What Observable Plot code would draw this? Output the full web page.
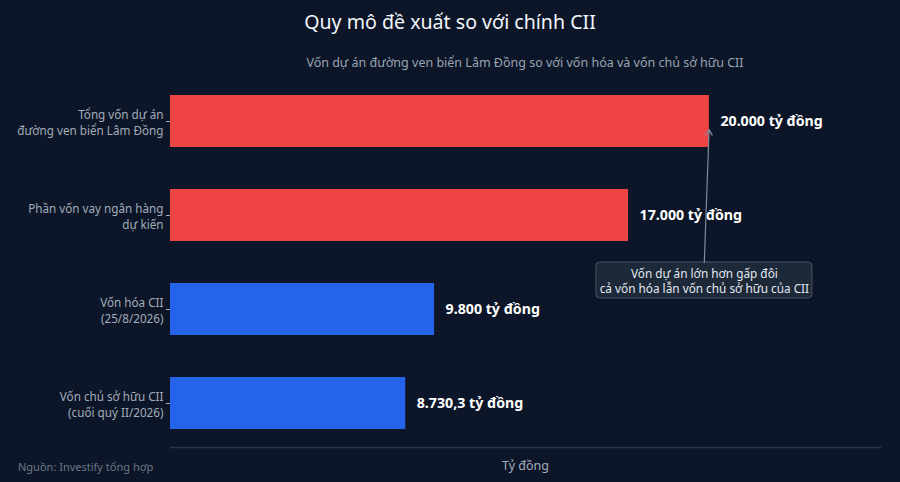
<!DOCTYPE html>
<html>
<head>
<meta charset="utf-8">
<script src="https://cdn.jsdelivr.net/npm/d3@7"></script>
<script src="https://cdn.jsdelivr.net/npm/@observablehq/plot@0.6"></script>
<style>
  html, body { margin: 0; padding: 0; background: #0c1628; }
  body { width: 900px; height: 482px; position: relative; overflow: hidden; font-family: "Noto Sans", sans-serif; }
  #title { position: absolute; top: 0; left: 0; width: 900px; height: 44px; line-height: 44px; text-align: center; color: #f1f5f9; font-size: 19.6px; }
  #subtitle { position: absolute; top: 52px; left: 170px; width: 710px; height: 22px; line-height: 22px; text-align: center; color: #9aa4b2; font-size: 12.5px; }
  #chart { position: absolute; top: 76px; left: 0; }
  #source { position: absolute; top: 459px; left: 18px; color: #6b7685; font-size: 11px; line-height: 16px; }
</style>
</head>
<body>
<div id="title">Quy mô đề xuất so với chính CII</div>
<div id="subtitle">Vốn dự án đường ven biển Lâm Đồng so với vốn hóa và vốn chủ sở hữu CII</div>
<div id="chart"></div>
<div id="source">Nguồn: Investify tổng hợp</div>
<script>
const categories = [
  "Tổng vốn dự án\nđường ven biển Lâm Đồng",
  "Phần vốn vay ngân hàng\ndự kiến",
  "Vốn hóa CII\n(25/8/2026)",
  "Vốn chủ sở hữu CII\n(cuối quý II/2026)"
];
const values = [20000, 17000, 9800, 8730.3];
const valueLabels = ["20.000 tỷ đồng", "17.000 tỷ đồng", "9.800 tỷ đồng", "8.730,3 tỷ đồng"];
const groups = ["project", "project", "cii", "cii"];
const noteText = "Vốn dự án lớn hơn gấp đôi\ncả vốn hóa lẫn vốn chủ sở hữu của CII";

const data = categories.map((c, i) => ({cat: c, value: values[i], label: valueLabels[i], group: groups[i]}));

// annotation anchor in data space
const note = {x: 19814, x1: 15807, x2: 23822, cat: categories[2]};
const arrow = {x1: 19748, y1: categories[2], x2: 20000, y2: categories[0]};

const chart = Plot.plot({
  width: 900,
  height: 406,
  marginLeft: 170,
  marginRight: 20,
  marginTop: 0,
  marginBottom: 35,
  style: {background: "transparent", fontFamily: "Noto Sans, sans-serif"},
  x: {domain: [0, 26350]},
  y: {domain: categories, paddingInner: 0.45, paddingOuter: 0.19, align: 0.5},
  color: {domain: ["project", "cii"], range: ["#ef4444", "#2563eb"]},
  marks: [
    Plot.axisY({tickSize: 4, tickPadding: 3, fontSize: 11.7, lineHeight: 1.37, color: "#a3acb9", stroke: "#a3acb9", label: null}),
    Plot.axisX({ticks: [], label: "Tỷ đồng", labelAnchor: "center", labelArrow: "none", labelOffset: 22, fontSize: 12.5, color: "#a3acb9"}),
    Plot.frame({anchor: "bottom", stroke: "#2b3546", strokeWidth: 1.5}),
    Plot.barX(data, {x: "value", y: "cat", fill: "group"}),
    Plot.text(data, {x: "value", y: "cat", text: "label", textAnchor: "start", dx: 11, fill: "#ffffff", fontWeight: "bold", fontSize: 14.2}),
    Plot.rect([note], {x1: "x1", x2: "x2", y: "cat", insetTop: -21, insetBottom: 37, fill: "#1f2a3b", fillOpacity: 0.9, stroke: "#4a5568", strokeWidth: 1, rx: 4}),
    Plot.arrow([arrow], {x1: "x1", y1: "y1", x2: "x2", y2: "y2", insetStart: 47, insetEnd: 8, stroke: "#7f8a9b", strokeWidth: 1.2, headLength: 8}),
    Plot.text([note], {x: "x", y: "cat", text: () => noteText, dy: -29, fontSize: 11.8, lineHeight: 1.27, fill: "#e2e8f0"})
  ]
});
document.getElementById("chart").append(chart);
</script>
</body>
</html>
